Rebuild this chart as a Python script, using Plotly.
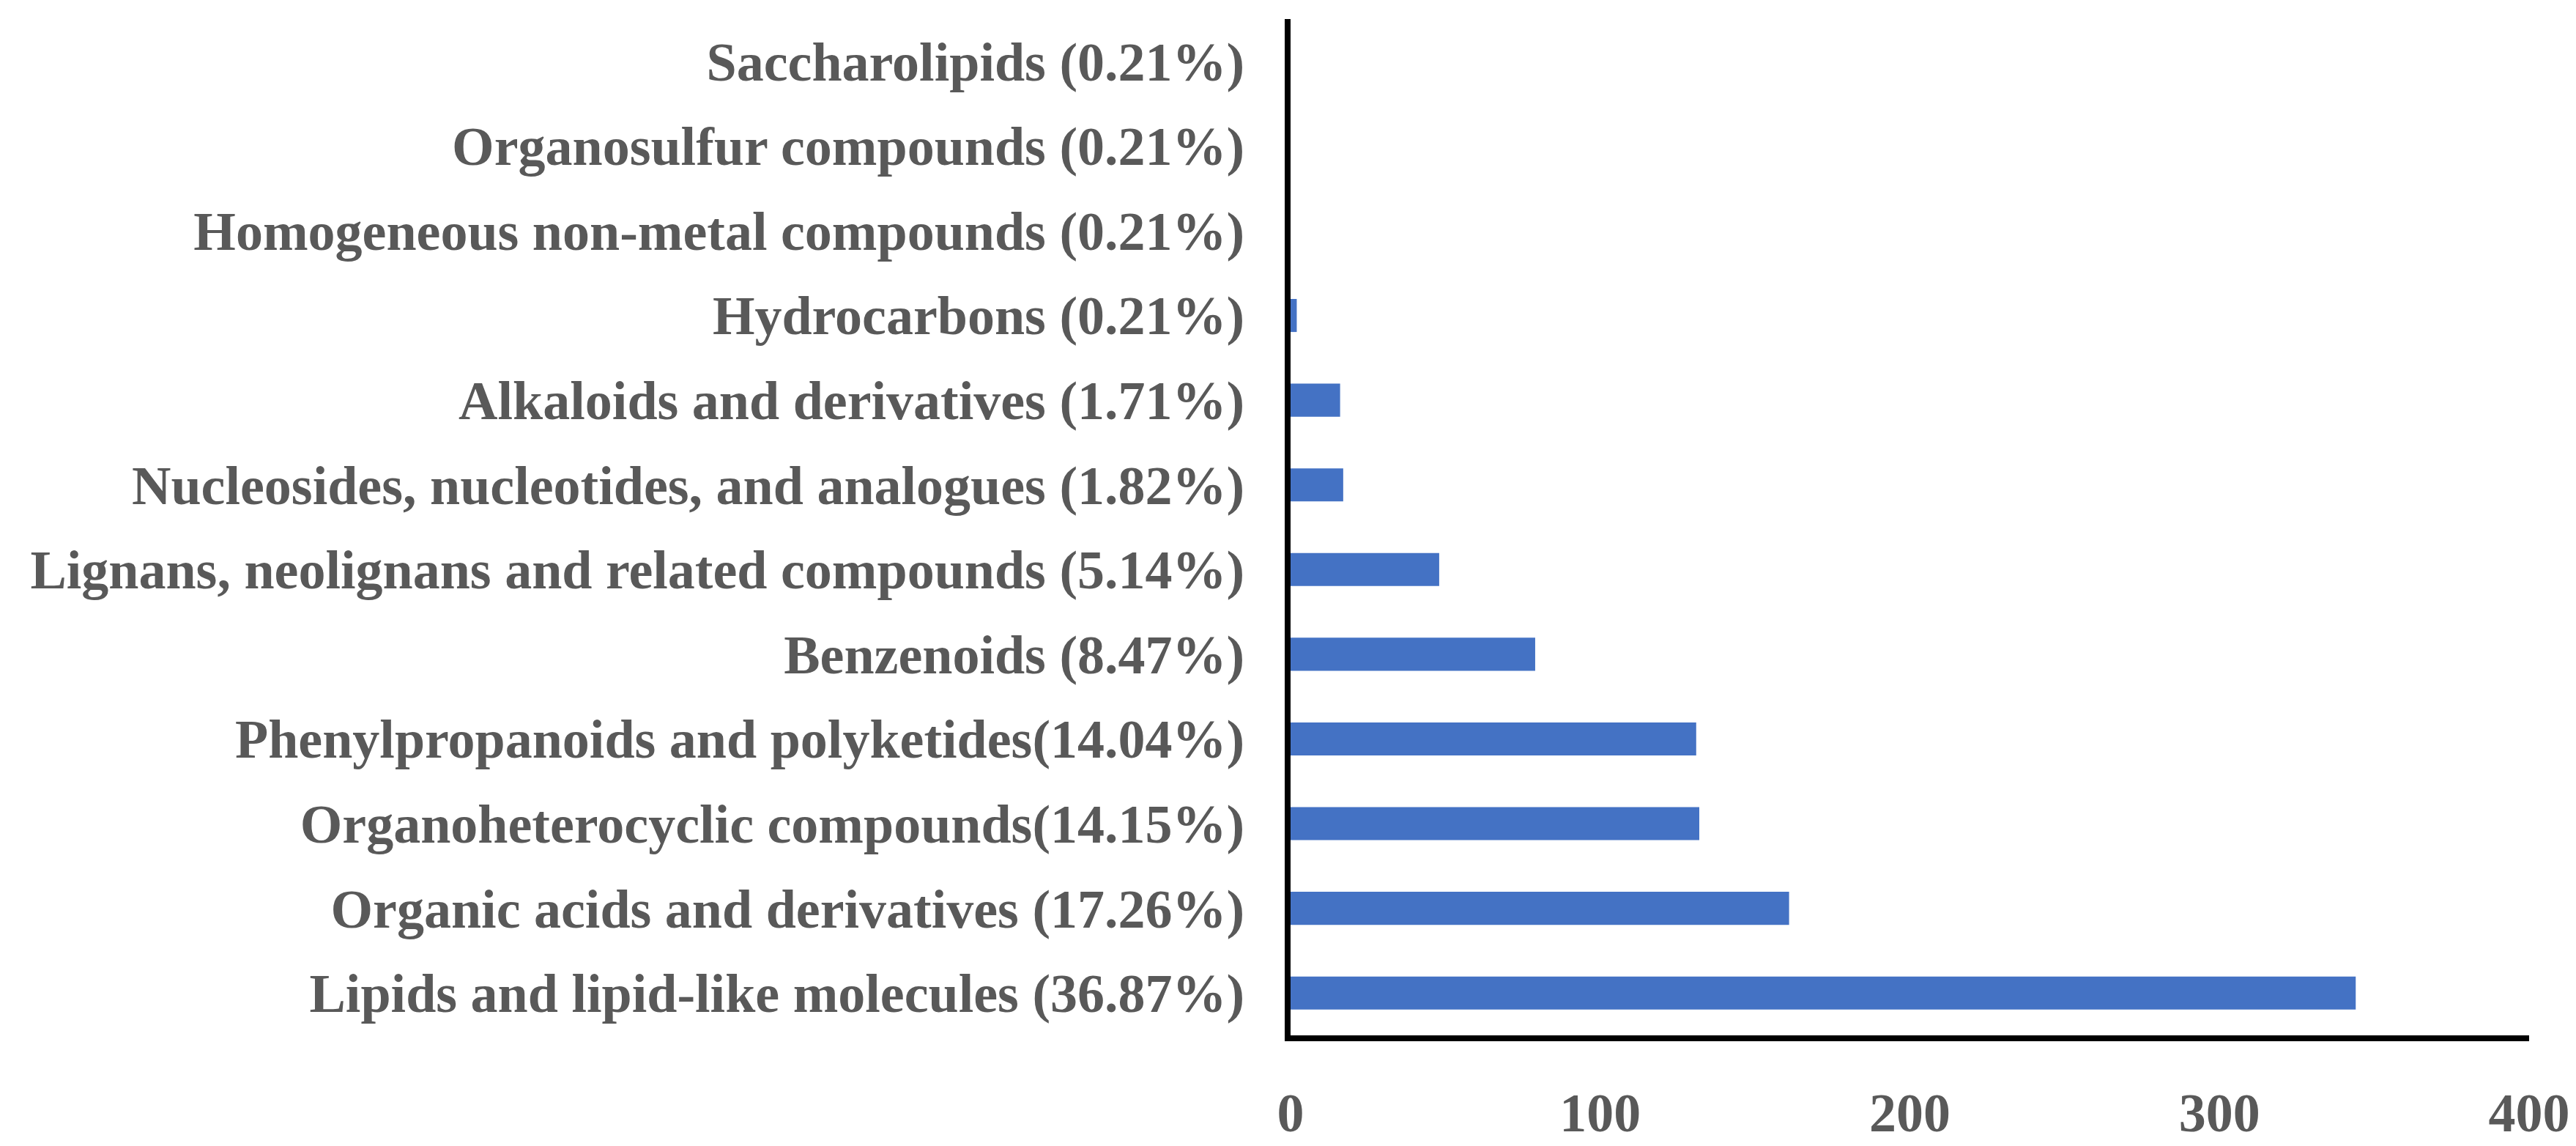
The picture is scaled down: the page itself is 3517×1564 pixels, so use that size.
import plotly.graph_objects as go

categories = [
    "Lipids and lipid-like molecules (36.87%)",
    "Organic acids and derivatives (17.26%)",
    "Organoheterocyclic compounds(14.15%)",
    "Phenylpropanoids and polyketides(14.04%)",
    "Benzenoids (8.47%)",
    "Lignans, neolignans and related compounds (5.14%)",
    "Nucleosides, nucleotides, and analogues (1.82%)",
    "Alkaloids and derivatives (1.71%)",
    "Hydrocarbons (0.21%)",
    "Homogeneous non-metal compounds (0.21%)",
    "Organosulfur compounds (0.21%)",
    "Saccharolipids (0.21%)",
]
counts = [344, 161, 132, 131, 79, 48, 17, 16, 2, 0, 0, 0]
x_ticks = [0, 100, 200, 300, 400]

FONT = "Liberation Serif"
TXT = "#595959"

fig = go.Figure(
    go.Bar(
        x=counts,
        y=categories,
        orientation="h",
        marker=dict(color="#4472C4", line=dict(width=0)),
    )
)

fig.update_layout(
    width=3517,
    height=1564,
    autosize=False,
    margin=dict(l=1754, r=72, t=18, b=118, pad=0),
    paper_bgcolor="white",
    plot_bgcolor="white",
    bargap=0.61,
    showlegend=False,
    font=dict(family=FONT, size=74, color=TXT, weight="bold"),
)

fig.update_xaxes(
    range=[0, 400],
    tickvals=x_ticks,
    ticktext=[str(v) for v in x_ticks],
    showgrid=False,
    zeroline=False,
    showline=True,
    linecolor="black",
    linewidth=8,
    ticks="",
    ticklabelstandoff=34,
    tickfont=dict(family=FONT, size=74, color=TXT, weight="bold"),
)

fig.update_yaxes(
    type="category",
    categoryorder="array",
    categoryarray=categories,
    range=[-0.5, len(categories) - 0.5],
    showgrid=False,
    zeroline=False,
    showline=True,
    linecolor="black",
    linewidth=8,
    ticks="",
    ticklabelstandoff=40,
    tickfont=dict(family=FONT, size=74, color=TXT, weight="bold"),
)

fig.write_html("out.html")
